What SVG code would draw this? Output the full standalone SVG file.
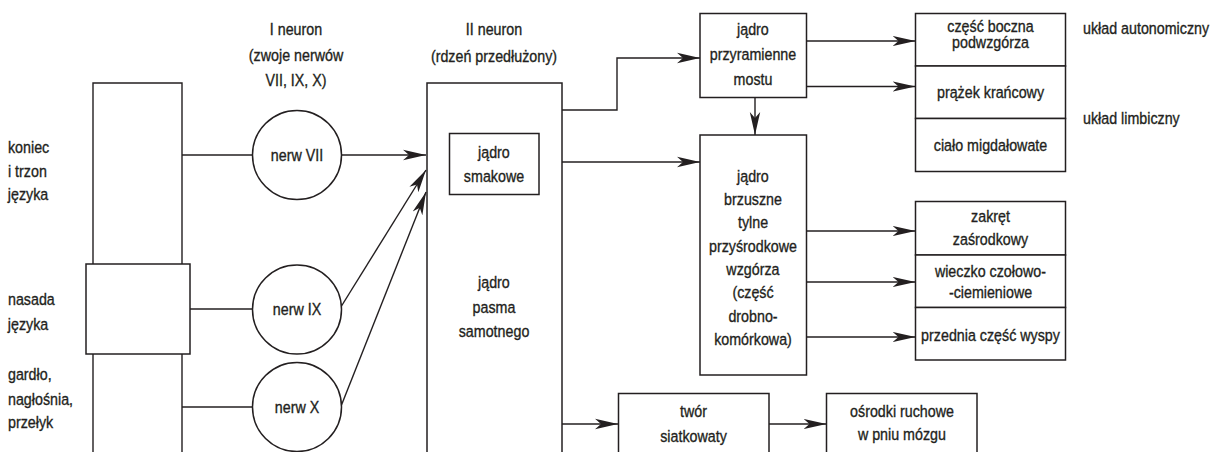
<svg xmlns="http://www.w3.org/2000/svg" width="1217" height="452" viewBox="0 0 1217 452">
<style>
.t{font-family:"Liberation Sans",Arial,sans-serif;font-size:17px;fill:#231f20;stroke:#231f20;stroke-width:0.35;transform-box:fill-box;transform-origin:center;transform:scaleX(0.84)}
.s{transform-origin:left center}
.m{text-anchor:middle}
.b{fill:#fff;stroke:#231f20;stroke-width:1.5}
.l{fill:none;stroke:#231f20;stroke-width:1.4}
.a{fill:none;stroke:#231f20;stroke-width:1.4;marker-end:url(#ah)}
</style>
<defs>
<marker id="ah" markerUnits="userSpaceOnUse" markerWidth="24" markerHeight="12" refX="23" refY="6" orient="auto">
<path d="M0,0.8 L23,6 L0,11.2 L6,6 z" fill="#231f20"/>
</marker>
</defs>
<rect width="1217" height="452" fill="#fff"/>

<g id="tongue">
<path class="l" d="M93,452 V83 H182 V452"/>
</g>
<g id="nasada-box">
<rect class="b" x="86" y="264" width="104" height="90"/>
</g>

<g id="labels-left">
<text class="t s" x="8" y="153">koniec</text>
<text class="t s" x="8" y="177">i trzon</text>
<text class="t s" x="8" y="200">języka</text>
<text class="t s" x="8" y="305">nasada</text>
<text class="t s" x="8" y="330">języka</text>
<text class="t s" x="8" y="380">gardło,</text>
<text class="t s" x="8" y="405">nagłośnia,</text>
<text class="t s" x="8" y="428">przełyk</text>
</g>

<g id="header-1">
<text class="t m" x="296" y="35">I neuron</text>
<text class="t m" x="296" y="61">(zwoje nerwów</text>
<text class="t m" x="296" y="86">VII, IX, X)</text>
</g>
<g id="header-2">
<text class="t m" x="494" y="35">II neuron</text>
<text class="t m" x="494" y="62">(rdzeń przedłużony)</text>
</g>

<g id="connectors">
<path class="l" d="M182,155 H252"/>
<path class="l" d="M190,309 H252"/>
<path class="l" d="M182,407 H252"/>
<path class="a" d="M341.5,155 H426"/>
<path class="a" d="M341.5,306 L426,170"/>
<path class="a" d="M341.5,405 L426,192"/>
<path class="a" d="M562,110 H617 V58 H700"/>
<path class="a" d="M562,162 H700"/>
<path class="a" d="M755,98 V135"/>
<path class="a" d="M807,41 H915.5"/>
<path class="a" d="M807,86.5 H915.5"/>
<path class="a" d="M807,231 H915.5"/>
<path class="a" d="M807,282 H915.5"/>
<path class="a" d="M807,337 H915.5"/>
<path class="a" d="M562,424 H618"/>
<path class="a" d="M769,424 H826.5"/>
</g>

<g id="nerw-VII">
<circle class="b" cx="297" cy="155" r="44.5"/>
<text class="t m" x="297" y="161">nerw VII</text>
</g>
<g id="nerw-IX">
<circle class="b" cx="297" cy="309.5" r="44.5"/>
<text class="t m" x="297" y="315.5">nerw IX</text>
</g>
<g id="nerw-X">
<circle class="b" cx="297" cy="407" r="44.5"/>
<text class="t m" x="297" y="413">nerw X</text>
</g>

<g id="jadro-pasma">
<rect class="b" x="427" y="83" width="135" height="400"/>
<text class="t m" x="494" y="288">jądro</text>
<text class="t m" x="494" y="313">pasma</text>
<text class="t m" x="494" y="337">samotnego</text>
</g>
<g id="jadro-smakowe">
<rect class="b" x="449.5" y="133.5" width="89.5" height="61"/>
<text class="t m" x="494" y="158">jądro</text>
<text class="t m" x="494" y="182">smakowe</text>
</g>

<g id="przyramienne">
<rect class="b" x="700" y="13.5" width="106.5" height="84"/>
<text class="t m" x="753" y="35">jądro</text>
<text class="t m" x="753" y="60">przyramienne</text>
<text class="t m" x="753" y="85">mostu</text>
</g>
<g id="brzuszne">
<rect class="b" x="700" y="135" width="106.5" height="240"/>
<text class="t m" x="753" y="182">jądro</text>
<text class="t m" x="753" y="205">brzuszne</text>
<text class="t m" x="753" y="228">tylne</text>
<text class="t m" x="753" y="252">przyśrodkowe</text>
<text class="t m" x="753" y="275">wzgórza</text>
<text class="t m" x="753" y="298">(część</text>
<text class="t m" x="753" y="322">drobno-</text>
<text class="t m" x="753" y="345">komórkowa)</text>
</g>

<g id="podwzgorze">
<rect class="b" x="915.5" y="13.5" width="150" height="52.5"/>
<text class="t m" x="990.5" y="32">część boczna</text>
<text class="t m" x="990.5" y="48">podwzgórza</text>
</g>
<g id="prazek">
<rect class="b" x="915.5" y="66" width="150" height="52.5"/>
<text class="t m" x="990.5" y="98">prążek krańcowy</text>
</g>
<g id="cialo">
<rect class="b" x="915.5" y="118.5" width="150" height="53"/>
<text class="t m" x="990.5" y="151">ciało migdałowate</text>
</g>
<g id="side-labels">
<text class="t s" x="1083" y="34">układ autonomiczny</text>
<text class="t s" x="1083" y="124">układ limbiczny</text>
</g>

<g id="zakret">
<rect class="b" x="915.5" y="201.5" width="150" height="53.5"/>
<text class="t m" x="990.5" y="222">zakręt</text>
<text class="t m" x="990.5" y="245">zaśrodkowy</text>
</g>
<g id="wieczko">
<rect class="b" x="915.5" y="255" width="150" height="52.5"/>
<text class="t m" x="990.5" y="277">wieczko czołowo-</text>
<text class="t m" x="990.5" y="298">-ciemieniowe</text>
</g>
<g id="wyspa">
<rect class="b" x="915.5" y="307.5" width="150" height="52.5"/>
<text class="t m" x="990.5" y="341">przednia część wyspy</text>
</g>

<g id="twor">
<rect class="b" x="618.5" y="393.5" width="150.5" height="80"/>
<text class="t m" x="693.5" y="417">twór</text>
<text class="t m" x="693.5" y="442">siatkowaty</text>
</g>
<g id="osrodki">
<rect class="b" x="826.5" y="393.5" width="150.5" height="80"/>
<text class="t m" x="902" y="417">ośrodki ruchowe</text>
<text class="t m" x="902" y="440">w pniu mózgu</text>
</g>
</svg>
